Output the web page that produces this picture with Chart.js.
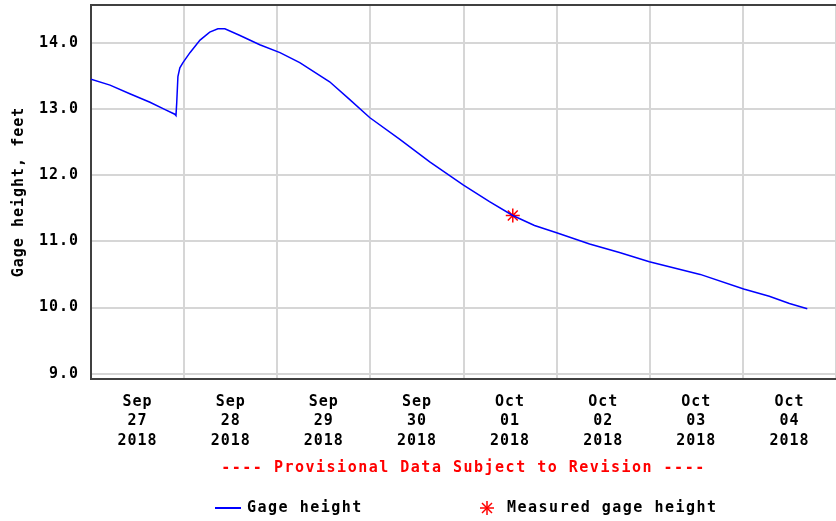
<!DOCTYPE html>
<html lang="en">
<head>
  <meta charset="UTF-8">
  <title>Gage height</title>
  <script src="https://cdn.jsdelivr.net/npm/chart.js"></script>
  <style>
    body {
      margin: 0;
      background: #fff;
      font-family: 'DejaVu Sans Mono', monospace;
    }
    .wrap {
      position: relative;
      width: 836px;
      height: 521px;
    }
    .note {
      position: absolute;
      left: 91px;
      right: 0;
      top: 458px;
      text-align: center;
      color: #ff0000;
      font: bold 15px 'DejaVu Sans Mono', monospace;
      letter-spacing: 1.5px;
    }
    .key {
      position: absolute;
      top: 498px;
      font: bold 15px 'DejaVu Sans Mono', monospace;
      letter-spacing: 1.5px;
      color: #000;
    }
    .key-line {
      position: absolute;
      left: 215px;
      top: 507px;
      width: 26px;
      height: 2px;
      background: #0000ff;
    }
    .key-star {
      position: absolute;
      left: 479px;
      top: 500px;
    }
  </style>
</head>
<body>
  <div class="wrap">
    <canvas id="gage"></canvas>
    <div class="note">---- Provisional Data Subject to Revision ----</div>
    <div class="key-line"></div>
    <div class="key" style="left: 247px;">Gage height</div>
    <svg class="key-star" width="16" height="16" viewBox="-8 -8 16 16">
      <g stroke="#ff0000" stroke-width="1.5">
        <line x1="0" y1="-7" x2="0" y2="7"/>
        <line x1="-7" y1="0" x2="7" y2="0"/>
        <line x1="-5" y1="-5" x2="5" y2="5"/>
        <line x1="-5" y1="5" x2="5" y2="-5"/>
      </g>
    </svg>
    <div class="key" style="left: 507px;">Measured gage height</div>
  </div>

  <script>
    // hours since Sep 27 2018 00:00
    const hours = [0, 4.9, 10, 15.2, 19.1, 21.6, 21.9, 22.1, 22.4, 22.9, 23.7, 25.5, 28.1, 30.6, 32.7, 34.5,
      38.4, 43.5, 48.7, 53.8, 61.5, 66.7, 71.8, 79.6, 87.3, 96, 102.7, 108.7, 114.3, 120, 128.5,
      136.2, 143.9, 157, 168.2, 174.8, 180, 184.6];
    const heights = [13.45, 13.36, 13.23, 13.1, 12.99, 12.92, 12.9, 13.1, 13.49, 13.62, 13.7, 13.85, 14.04, 14.16, 14.21, 14.21,
      14.11, 13.97, 13.85, 13.7, 13.41, 13.14, 12.87, 12.54, 12.2, 11.85, 11.6, 11.39, 11.24, 11.13, 10.96,
      10.83, 10.69, 10.5, 10.28, 10.17, 10.06, 9.98];

    const measuredHours = [108.7];
    const measuredHeights = [11.39];

    const tickMonths = ['Sep', 'Sep', 'Sep', 'Sep', 'Oct', 'Oct', 'Oct', 'Oct'];
    const tickDays = ['27', '28', '29', '30', '01', '02', '03', '04'];
    const tickYear = '2018';
    const yTicks = [9, 10, 11, 12, 13, 14];

    const gridColor = '#d6d6d6';
    const axisColor = '#404040';
    const tickFont = { family: "'DejaVu Sans Mono', monospace", size: 15, weight: 'bold', lineHeight: 1.27 };

    const spacing = {
      id: 'spacing',
      beforeDraw(chart) {
        chart.ctx.letterSpacing = '1px';
      },
      afterDraw(chart) {
        const a = chart.chartArea, ctx = chart.ctx;
        ctx.save();
        ctx.strokeStyle = axisColor;
        ctx.lineWidth = 2;
        ctx.beginPath();
        ctx.moveTo(a.left, a.top);
        ctx.lineTo(a.right, a.top);
        ctx.stroke();
        ctx.restore();
      }
    };

    new Chart(document.getElementById('gage').getContext('2d'), {
      type: 'line',
      data: {
        datasets: [{
          label: 'Gage height',
          data: hours.map((h, i) => ({ x: h, y: heights[i] })),
          borderColor: '#0000ff',
          borderWidth: 1.5,
          pointRadius: 0,
          tension: 0,
          fill: false
        }, {
          label: 'Measured gage height',
          type: 'scatter',
          data: measuredHours.map((h, i) => ({ x: h, y: measuredHeights[i] })),
          pointStyle: 'star',
          pointRadius: 7,
          borderColor: '#ff0000',
          backgroundColor: '#ff0000',
          borderWidth: 1.5
        }]
      },
      options: {
        responsive: true,
        maintainAspectRatio: false,
        animation: false,
        layout: { autoPadding: false, padding: { top: 5, right: 0, left: 0, bottom: 0 } },
        plugins: {
          legend: { display: false },
          tooltip: { enabled: false }
        },
        scales: {
          x: {
            type: 'linear',
            min: 0,
            max: 192,
            afterBuildTicks(s) {
              const t = [];
              for (let h = 0; h <= 192; h += 12) t.push({ value: h });
              s.ticks = t;
            },
            afterFit(s) {
              s.height = 142;
              s.paddingLeft = 0;
              s.paddingRight = 0;
            },
            ticks: {
              autoSkip: false,
              maxRotation: 0,
              padding: 14,
              color: '#000',
              font: tickFont,
              callback(v) {
                if (v % 24 !== 12) return '';
                const i = Math.floor(v / 24);
                return [tickMonths[i], tickDays[i], tickYear];
              }
            },
            grid: {
              drawTicks: false,
              lineWidth: 2,
              color: (c) => (c.tick && c.tick.value % 24 === 0) ? gridColor : 'rgba(0,0,0,0)'
            },
            border: { color: axisColor, width: 2 }
          },
          y: {
            min: 8.92,
            max: 14.57,
            afterBuildTicks(s) {
              s.ticks = yTicks.map(v => ({ value: v }));
            },
            afterFit(s) {
              s.width = 91;
              s.paddingTop = 0;
              s.paddingBottom = 0;
            },
            ticks: {
              padding: 12,
              color: '#000',
              font: tickFont,
              callback: (v) => v.toFixed(1)
            },
            grid: { drawTicks: false, lineWidth: 2, color: gridColor },
            border: { color: axisColor, width: 2 },
            title: {
              display: true,
              text: 'Gage height, feet',
              color: '#000',
              font: { family: "'DejaVu Sans Mono', monospace", size: 15, weight: 'bold' },
              padding: { top: 10 }
            }
          }
        }
      },
      plugins: [spacing]
    });
  </script>
</body>
</html>
